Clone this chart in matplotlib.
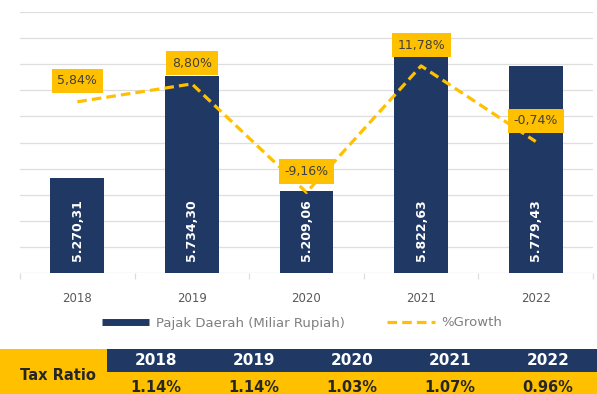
import numpy as np
import matplotlib
matplotlib.use("Agg")
import matplotlib.pyplot as plt
from matplotlib.lines import Line2D
from matplotlib.patches import Rectangle

years = ["2018", "2019", "2020", "2021", "2022"]
pajak_daerah = [5270.31, 5734.30, 5209.06, 5822.63, 5779.43]
growth = [5.84, 8.80, -9.16, 11.78, -0.74]
tax_ratio = [1.14, 1.14, 1.03, 1.07, 0.96]

NAVY = "#203864"
GOLD = "#FFC000"
GRID = "#DEDEDE"


def fmt_id(v, dec=2):
    # Indonesian number format: '.' thousands, ',' decimals
    s = f"{v:,.{dec}f}"
    return s.replace(",", "X").replace(".", ",").replace("X", ".")


fig = plt.figure(figsize=(5.97, 3.94), dpi=100)
ax = fig.add_axes([20 / 597, 1 - 273 / 394, 573 / 597, 261 / 394])

x = np.arange(len(years))
ax.set_xlim(-0.5, len(years) - 0.5)
ax.set_ylim(4836, 6027)
ax.set_yticks(np.linspace(4836, 6027, 11))
ax.yaxis.grid(True, color=GRID, linewidth=0.9)
ax.set_axisbelow(True)
for s in ax.spines.values():
    s.set_visible(False)
ax.tick_params(axis="y", length=0, labelleft=False)

bars = ax.bar(x, pajak_daerah, width=0.47, color=NAVY, zorder=2)
for xi, v in zip(x, pajak_daerah):
    ax.text(xi, 0.165, fmt_id(v), transform=ax.get_xaxis_transform(),
            rotation=90, ha="center", va="center", color="white",
            fontsize=9, fontweight="bold", zorder=3)

ax.set_xticks(x)
ax.set_xticklabels(years, fontsize=8.5, color="#595959")
ax.tick_params(axis="x", length=0, pad=14)
ax.set_xticks(np.arange(-0.5, len(years)), minor=True)
ax.tick_params(axis="x", which="minor", length=4, color=GRID, width=0.9)

ax2 = ax.twinx()
ax2.set_ylim(-22.5, 20.7)
ax2.axis("off")
ax2.plot(x, growth, color=GOLD, linewidth=2.3, linestyle=(0, (3, 1.6)),
         zorder=4)
for xi, g in zip(x, growth):
    ax2.annotate(f"{fmt_id(g)}%", (xi, g), xytext=(0, 15),
                 textcoords="offset points", ha="center", va="center",
                 fontsize=9, color="#404040", zorder=5,
                 bbox=dict(boxstyle="square,pad=0.45", fc=GOLD, ec="none"))

handles = [
    Line2D([], [], color=NAVY, linewidth=5, solid_capstyle="butt"),
    Line2D([], [], color=GOLD, linewidth=2.3, linestyle=(0, (3, 1.6))),
]
fig.legend(handles, ["Pajak Daerah (Miliar Rupiah)", "%Growth"],
           loc="center", bbox_to_anchor=(302 / 597, 1 - 323 / 394), ncol=2,
           frameon=False, fontsize=9.5, labelcolor="#7F7F7F",
           handlelength=3.6, columnspacing=3.2, handletextpad=0.5)

# tax ratio table along the bottom
tab = fig.add_axes([0, 0, 1, 45 / 394])
tab.set_xlim(0, 597)
tab.set_ylim(0, 45)
tab.axis("off")
tab.add_patch(Rectangle((0, 0), 597, 45, color=GOLD, lw=0))
col_left = 107
col_w = (597 - col_left) / len(years)
tab.add_patch(Rectangle((col_left, 22), 597 - col_left, 23, color=NAVY, lw=0))
tab.text(58, 19, "Tax Ratio", ha="center", va="center", fontsize=10.5,
         fontweight="bold", color="#262626")
for i, (yr, tr) in enumerate(zip(years, tax_ratio)):
    cx = col_left + col_w * (i + 0.5)
    tab.text(cx, 33.5, yr, ha="center", va="center", fontsize=11,
             fontweight="bold", color="white")
    tab.text(cx, 6, f"{tr:.2f}%", ha="center", va="center",
             fontsize=10.5, fontweight="bold", color="#262626")

fig.savefig("out.png", dpi=100, facecolor="white")
